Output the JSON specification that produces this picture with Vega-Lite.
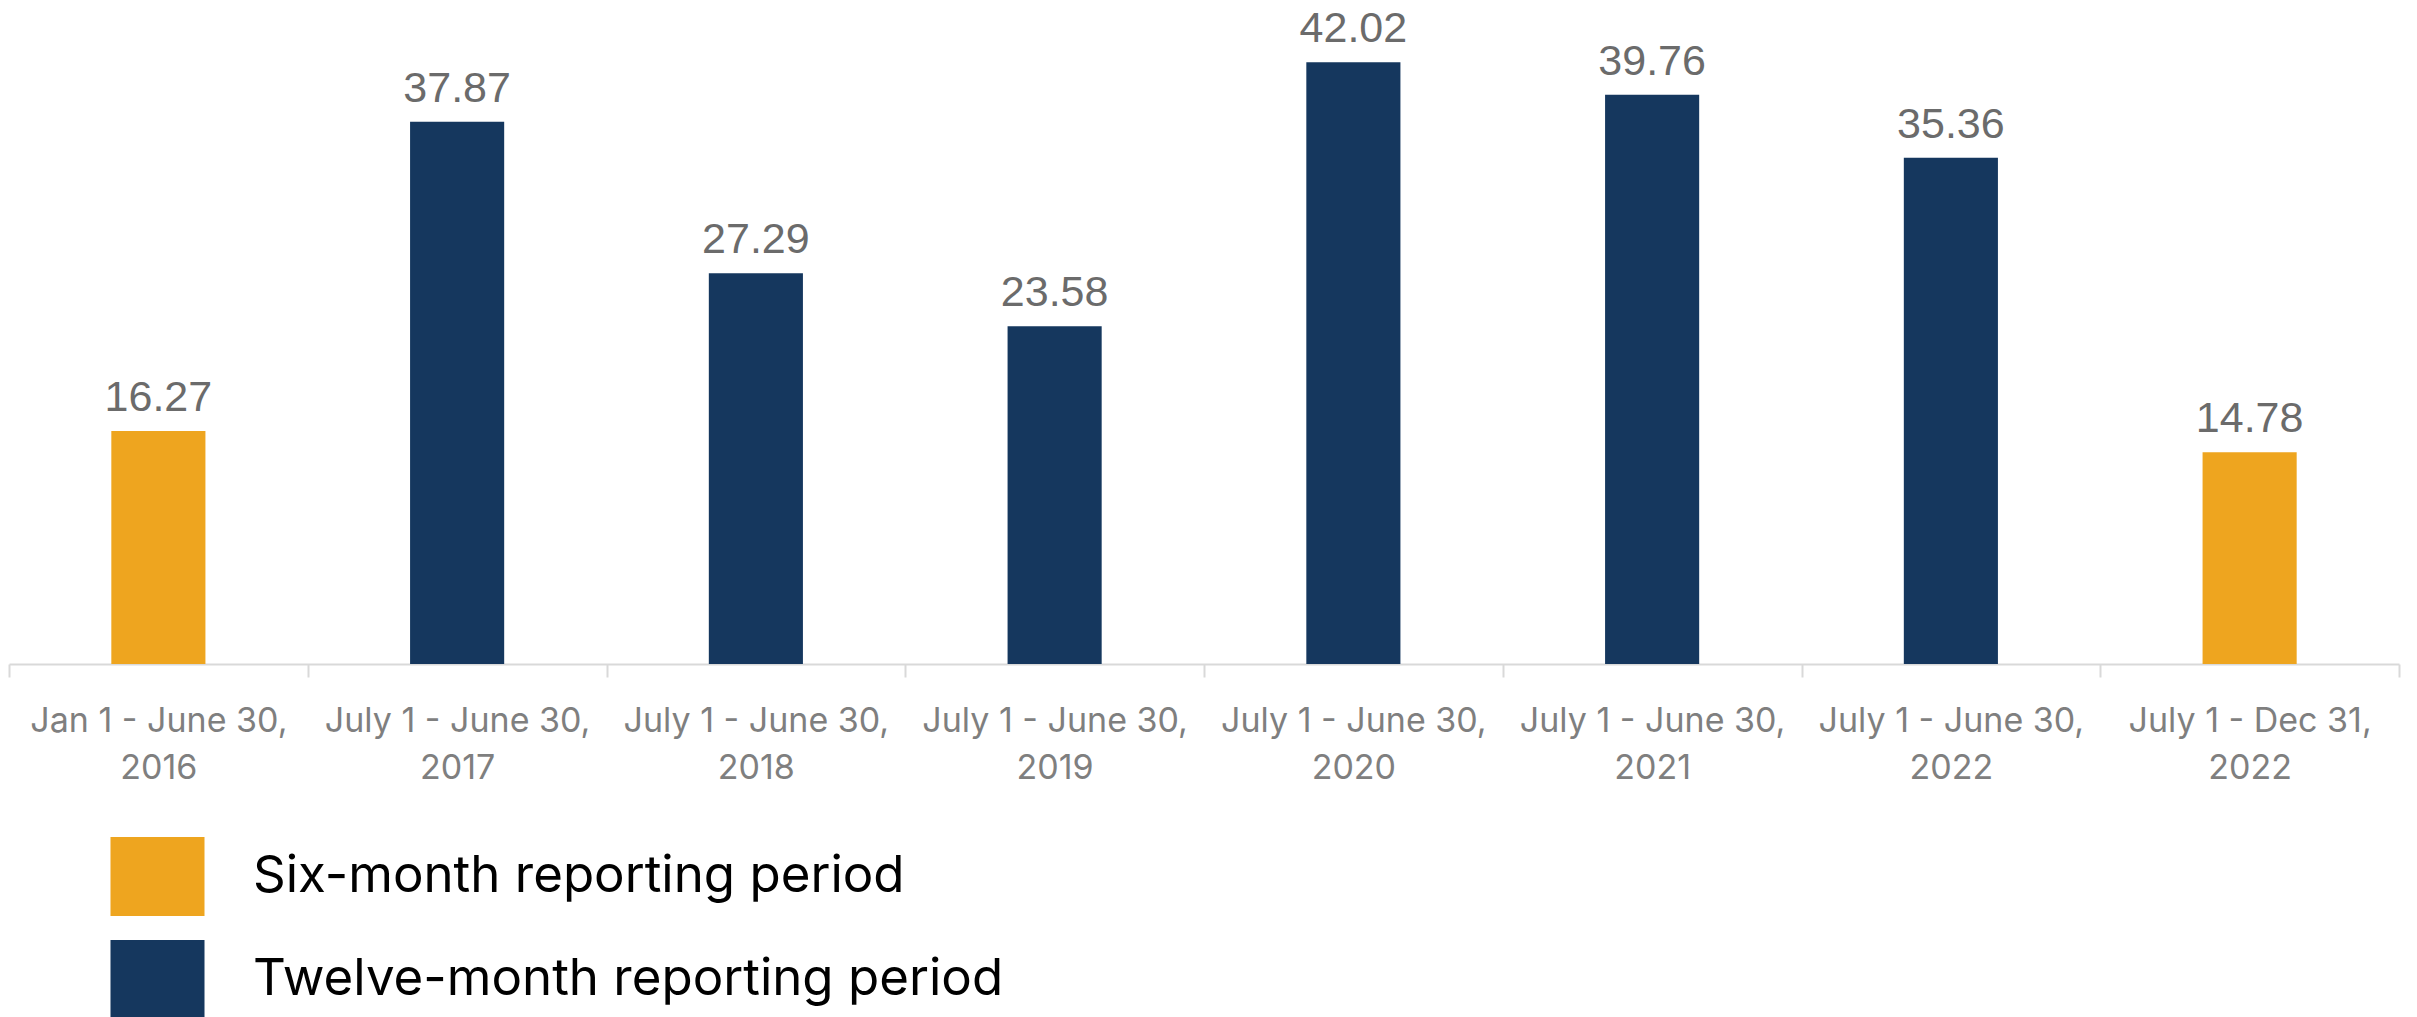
{
  "$schema": "https://vega.github.io/schema/vega-lite/v6.json",
  "autosize": {"type": "none"},
  "width": 2390,
  "height": 664,
  "padding": {"left": 9, "top": 0, "right": 18, "bottom": 353},
  "background": "white",
  "config": {"view": {"stroke": null}},
  "data": {
    "values": [
      {"period": "Jan 1 - June 30, 2016", "value": 16.27, "type": "Six-month reporting period"},
      {"period": "July 1 - June 30, 2017", "value": 37.87, "type": "Twelve-month reporting period"},
      {"period": "July 1 - June 30, 2018", "value": 27.29, "type": "Twelve-month reporting period"},
      {"period": "July 1 - June 30, 2019", "value": 23.58, "type": "Twelve-month reporting period"},
      {"period": "July 1 - June 30, 2020", "value": 42.02, "type": "Twelve-month reporting period"},
      {"period": "July 1 - June 30, 2021", "value": 39.76, "type": "Twelve-month reporting period"},
      {"period": "July 1 - June 30, 2022", "value": 35.36, "type": "Twelve-month reporting period"},
      {"period": "July 1 - Dec 31, 2022", "value": 14.78, "type": "Six-month reporting period"}
    ]
  },
  "encoding": {
    "x": {
      "field": "period",
      "type": "nominal",
      "sort": null,
      "scale": {"paddingInner": 0, "paddingOuter": 0},
      "axis": {
        "title": null,
        "labelAngle": 0,
        "labelExpr": "[slice(datum.label, 0, -5), slice(datum.label, -4)]",
        "labelFont": "Inter",
        "labelFontSize": 34,
        "labelColor": "#7f7f7f",
        "labelLineHeight": 47,
        "labelBaseline": "top",
        "labelPadding": 27,
        "labelLimit": 0,
        "domainColor": "#d9d9d9",
        "domainWidth": 2,
        "tickColor": "#d9d9d9",
        "tickWidth": 2,
        "tickSize": 13,
        "tickBand": "extent",
        "grid": false
      }
    },
    "y": {
      "field": "value",
      "type": "quantitative",
      "scale": {"domain": [0, 46.37], "nice": false, "zero": true},
      "axis": null
    }
  },
  "layer": [
    {
      "mark": {"type": "bar", "width": {"band": 0.315}},
      "encoding": {
        "color": {
          "field": "type",
          "type": "nominal",
          "scale": {
            "domain": ["Six-month reporting period", "Twelve-month reporting period"],
            "range": ["#EEA51F", "#15375E"]
          },
          "legend": {
            "title": null,
            "orient": "none",
            "legendX": 109,
            "legendY": 837,
            "direction": "vertical",
            "padding": 0,
            "symbolType": "M-1.19,-1H1.19V1H-1.19Z",
            "symbolSize": 6241,
            "symbolStrokeWidth": 0,
            "symbolOpacity": 1,
            "labelFont": "Inter",
            "labelFontSize": 51,
            "labelColor": "#000000",
            "labelOffset": 56,
            "labelLimit": 0,
            "rowPadding": 24
          }
        }
      }
    },
    {
      "mark": {
        "type": "text",
        "baseline": "alphabetic",
        "dy": -20,
        "font": "Liberation Sans",
        "fontSize": 43,
        "color": "#6b6b6b"
      },
      "encoding": {
        "text": {"field": "value", "type": "quantitative", "format": ".2f"}
      }
    }
  ]
}
